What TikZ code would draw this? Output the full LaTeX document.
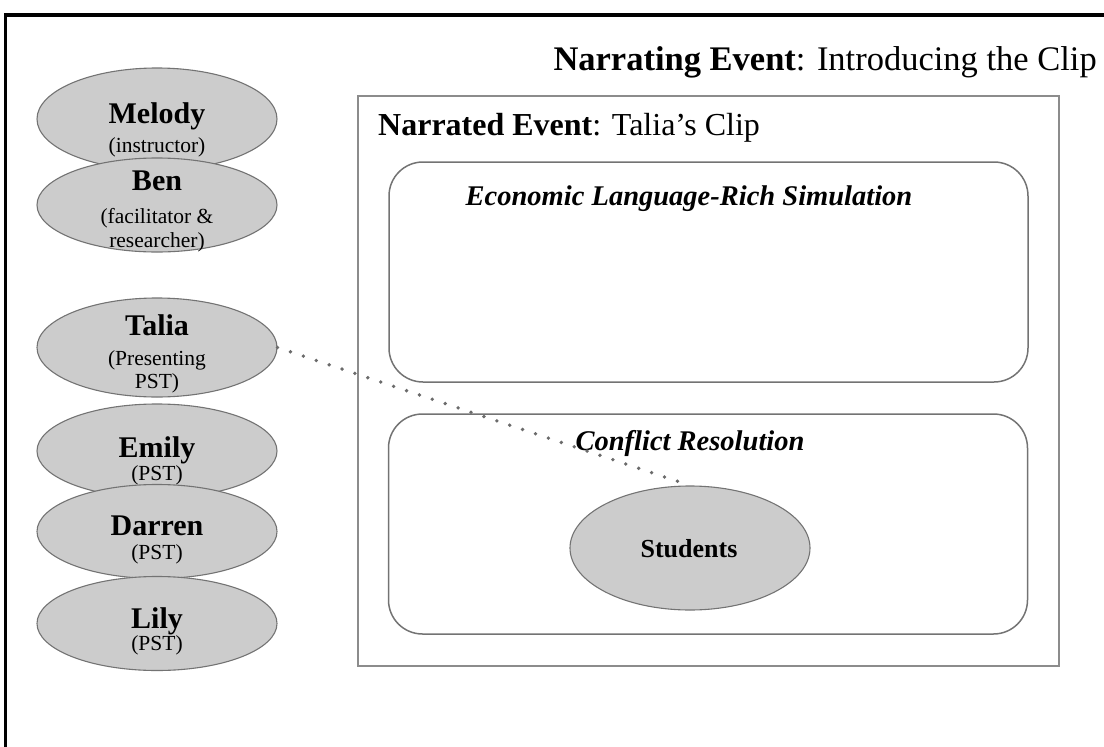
\documentclass[tikz,border=0pt]{standalone}
\usepackage{fontspec}
\setmainfont{Liberation Serif}
\usetikzlibrary{shapes.geometric}
\definecolor{pfill}{gray}{0.80}
\definecolor{pline}{gray}{0.45}
\definecolor{fline}{gray}{0.55}
\definecolor{rline}{gray}{0.45}
\definecolor{dotc}{gray}{0.42}
\begin{document}
\begin{tikzpicture}[x=1pt,y=-1pt,
  person/.style={ellipse, draw=pline, fill=pfill, line width=1.1pt,
    minimum width=240pt, minimum height=94pt, inner sep=0pt},
  pname/.style={font=\fontsize{30}{32}\selectfont\bfseries, inner sep=0pt, anchor=base},
  prole/.style={font=\fontsize{21.5}{24}\selectfont, inner sep=0pt, anchor=base},
  framebox/.style={draw=fline, line width=1.8pt, inner sep=0pt},
  activity/.style={draw=rline, line width=1.5pt, rounded corners=34pt, inner sep=0pt,
    minimum width=639pt, minimum height=220pt},
  acttext/.style={font=\fontsize{28.5}{30}\selectfont\bfseries\itshape, inner sep=0pt, anchor=base},
  dotline/.style={draw=dotc, line width=3.8pt, line cap=round, dash pattern=on 0pt off 13.6pt}
]
\useasboundingbox (0,0) rectangle (1104,747);
\clip (0,0) rectangle (1104,747);
% outer black frame (cut by the page)
\draw[line width=3.6pt, black] (5.5,15) rectangle (1130,780);

% narrating event
\node[font=\fontsize{34.5}{36}\selectfont, inner sep=0pt, anchor=base east] (narrating) at (1097,70)
  {\textbf{Narrating Event}: Introducing the Clip};
\node[framebox, minimum width=701pt, minimum height=570pt] (narratedbox) at (708.5,381) {};
\node[font=\fontsize{32}{34}\selectfont, inner sep=0pt, anchor=base west] (narrated) at (378,135)
  {\textbf{Narrated Event}: Talia’s Clip};

% activities
\node[activity] (econbox) at (708.5,272) {};
\node[acttext] (econ) at (689,205) {Economic Language-Rich Simulation};
\node[activity] (conflictbox) at (708,524) {};
\node[acttext] (conflict) at (690,450) {Conflict Resolution};

% students
\node[person, minimum width=240pt, minimum height=124pt] (students) at (690,548) {};
\node[font=\fontsize{26}{28}\selectfont\bfseries, inner sep=0pt, anchor=base] (studentstext) at (689,557) {Students};

% participants
\node[person, minimum height=102pt] (melody) at (157,119) {};
\node[pname] (melodyname) at (157,123) {Melody};
\node[prole] (melodyrole) at (157,152) {(instructor)};

\node[person] (ben) at (157,205) {};
\node[pname] (benname) at (157,190) {Ben};
\node[prole] (benrole1) at (157,223) {(facilitator \&};
\node[prole] (benrole2) at (157,247) {researcher)};

\node[person, minimum height=99pt] (talia) at (157,347.5) {};
\node[pname] (crossname) at (157,335) {Talia};
\node[prole] (taliarole1) at (157,365) {(Presenting};
\node[prole] (taliarole2) at (157,388) {PST)};

\node[person] (emily) at (157,451) {};
\node[pname] (emilyname) at (157,457) {Emily};
\node[prole] (emilyrole) at (157,480) {(PST)};

\node[person] (darren) at (157,531.5) {};
\node[pname] (darrenname) at (157,535) {Darren};
\node[prole] (darrenrole) at (157,559) {(PST)};

\node[person] (lily) at (157,623.5) {};
\node[pname] (lilyname) at (157,628) {Lily};
\node[prole] (lilyrole) at (157,650) {(PST)};

% connector
\draw[dotline] (talia.east) -- (students.north);
\end{tikzpicture}
\end{document}
